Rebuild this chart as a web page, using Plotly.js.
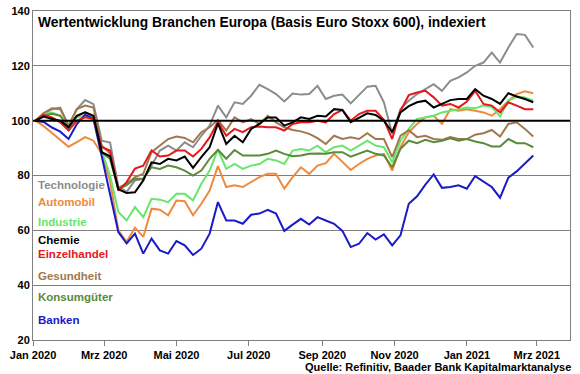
<!DOCTYPE html>
<html>
<head>
<meta charset="utf-8">
<script src="https://cdn.plot.ly/plotly-3.0.1.min.js"></script>
<style>html,body{margin:0;padding:0;background:#fff;}#chart{width:580px;height:374px;}</style>
</head>
<body>
<div id="chart"></div>
<script>
const dates = ["2020-01-03","2020-01-10","2020-01-17","2020-01-24","2020-01-31","2020-02-07","2020-02-14","2020-02-21","2020-02-28",
"2020-03-06","2020-03-13","2020-03-20","2020-03-27","2020-04-03","2020-04-10","2020-04-17","2020-04-24",
"2020-05-01","2020-05-08","2020-05-15","2020-05-22","2020-05-29","2020-06-05","2020-06-12","2020-06-19","2020-06-26",
"2020-07-03","2020-07-10","2020-07-17","2020-07-24","2020-07-31","2020-08-07","2020-08-14","2020-08-21","2020-08-28",
"2020-09-04","2020-09-11","2020-09-18","2020-09-25","2020-10-02","2020-10-09","2020-10-16","2020-10-23","2020-10-30",
"2020-11-06","2020-11-13","2020-11-20","2020-11-27","2020-12-04","2020-12-11","2020-12-18","2020-12-25",
"2021-01-01","2021-01-08","2021-01-15","2021-01-22","2021-01-29","2021-02-05","2021-02-12","2021-02-19","2021-02-26"];

const technologie = [100,102.5,104.2,104.8,98.2,104.2,107.5,106,92.7,92,
76,74,78.2,78.8,83.6,89.1,90.9,89.1,92.1,90.3,94.5,98.2,
105.5,101.2,106.7,106.1,109.1,113.1,111.5,109.7,107,109.9,109.5,109.7,112.7,
107.9,109.1,109.5,106.3,109.5,112.4,112.7,106.7,95.2,104.2,
107.3,109.7,111.5,113.3,110.9,114.5,115.8,117.6,120,121.2,124.8,
121.2,126.7,131.6,131.3,126.7];

const automobil = [100,98,95.5,93,90.5,92.2,94,92.7,88,78,
60,55.8,61,57.6,67.9,67.5,65.5,70.9,70.6,65.5,69.7,74.5,
83.4,75.8,76.4,75.8,77.6,79.4,80.6,80.6,75.2,79.4,83,80.6,83.6,
84.5,87.9,84.8,82,84.2,86.1,87.3,87.9,81.8,90.3,
95.8,98.8,101.2,101.8,98.8,104.2,103.6,104.2,103.6,103,101.8,
104.2,107.3,109.7,110.7,110];

const industrie = [100,102.4,103,101.8,97,101.2,101.8,100.6,89,80,
66.7,63.6,68.5,64.8,71.5,71.2,70.3,73.3,73.3,70.9,77,81.8,
89.4,82.4,84.2,82.4,83.6,84.2,86.1,85.5,84.2,89.1,89.7,89.1,90.9,
88.5,90.3,90.9,89.1,90.9,92.7,90.9,90.3,84.8,92.7,
97,100.6,101.2,101.8,103,103.6,104.2,104.8,104.5,105.5,105,
101.5,107.3,108.8,108.5,107.3];

const chemie = [100,101.5,100.6,100,97.6,101.8,103,101.8,88.5,87,
75,73.6,73.9,78.2,84.8,84.2,86.1,85.5,86.9,82.8,86.7,90.3,
99,91.5,94.5,92.1,97,98.8,101.2,101.2,98.2,99.4,101.2,100.6,101.8,
101.5,104.2,103.9,99.4,101.2,102.7,102.1,100,95.8,103,
105.3,106.7,107.3,104.8,106.1,107.5,107.9,107.9,111.5,109.1,107.9,
106.1,110,108.8,107.9,106.7];

const einzelhandel = [100,102.1,101.2,99.4,96.4,100,101.2,100.6,90.3,89.1,
74.5,77.6,82.5,83.6,89.1,86.9,87.3,89.1,89.1,86.9,89.7,93.9,
99.6,94.5,97,95.8,97.6,97.9,97.6,97.6,96.4,98.8,99.4,99.4,100,
99.4,102.4,103.9,100,102.4,103.6,103.6,100.3,93.3,103.6,
109.3,110.3,110.9,108.5,105.5,106.1,104.8,107,110.9,106.1,105.5,
103,106.7,105.5,104.2,104.2];

const gesundheit = [100,102.8,104.5,104.2,98.2,104.2,105.5,104.8,91,88,
75.5,77,79.4,80.6,88.5,90.9,93.3,94.2,93.7,92.1,95.8,97.6,
100.3,96.4,101.2,99.4,100.6,98.8,101.8,99.4,97.6,96.6,96.1,95.2,93.6,
91.5,94.5,93.3,93.9,93.3,95.4,93.3,93.3,86.7,94.5,
96.5,94,94.5,93.3,93,94,93.3,93.3,94.9,95.4,96.6,
94.2,98.8,99.4,97,94.2];

const konsumgueter = [100,101.8,102.5,101.8,97.6,101.8,103,101.5,88.5,86,
75,76.5,78.8,78.8,83,82.4,83.6,83,81.8,80,81.8,86.1,
89.4,86.1,89.3,87.3,87.3,87.3,87.9,89.1,87.9,87,87.3,87.9,88,
87.9,88.5,88.5,86.9,87.9,89.1,87.9,87.3,83,89.7,
92.7,91.8,93,92.1,92.7,93.6,92.7,93.3,92.4,91.8,90.6,
90.6,93.3,91.8,91.8,90.3];

const banken = [100,99.5,97.5,96,93.3,98.8,102.2,100.6,87,73,
59.4,55.2,58.8,51.5,57,52.7,51.5,56.1,54.5,51,53.3,58.8,
70.3,63.6,63.6,62.4,65.7,66.1,67.5,66.1,59.8,62.1,64.2,62.1,64.8,
63.6,62.4,59.8,53.9,55.1,59,56.6,58.5,54.5,58.2,
69.7,72.4,76.7,80.4,75.5,75.8,76.4,75.2,79.8,77.8,75.8,
71.9,79.2,81.5,84.3,87.3];

const seriesNames = ["Technologie","Automobil","Industrie","Chemie","Einzelhandel","Gesundheit","Konsumgüter","Banken"];
const seriesValues = [technologie, automobil, industrie, chemie, einzelhandel, gesundheit, konsumgueter, banken];
const seriesColors = ["#8c8c8c","#ee8a3e","#66e66a","#000000","#e3191c","#a07850","#5a8a3a","#1a1ac8"];
const labelY = [76.4, 70.3, 63.0, 56.6, 51.3, 43.3, 35.7, 27.3];
const drawOrder = [0,1,2,5,6,7,4,3];

const tickVals = ["2020-01-01","2020-03-01","2020-05-01","2020-07-01","2020-09-01","2020-11-01","2021-01-01","2021-03-01"];
const tickText = ["Jan 2020","Mrz 2020","Mai 2020","Jul 2020","Sep 2020","Nov 2020","Jan 2021","Mrz 2021"];

const FONT = "Liberation Sans, Arial, sans-serif";

const traces = drawOrder.map(i => ({
  type: "scatter", mode: "lines", name: seriesNames[i],
  x: dates, y: seriesValues[i],
  line: {color: seriesColors[i], width: 2},
  hoverinfo: "skip"
}));

const annotations = seriesNames.map((n, i) => ({
  text: "<b>" + n + "</b>", xref: "paper", yref: "y", x: 0.006, y: labelY[i],
  xanchor: "left", yanchor: "middle", showarrow: false,
  font: {family: FONT, size: 11.5, color: seriesColors[i]}
}));
annotations.push({
  text: "<b>Quelle: Refinitiv, Baader Bank Kapitalmarktanalyse</b>",
  xref: "paper", yref: "paper", x: 1.006, y: -0.082, xanchor: "right", yanchor: "middle",
  showarrow: false, font: {family: FONT, size: 11, color: "#000"}
});
annotations.push({
  text: "<b>Wertentwicklung Branchen Europa (Basis Euro Stoxx 600), indexiert</b>",
  xref: "paper", yref: "paper", x: 0.006, y: 0.965, xanchor: "left", yanchor: "middle",
  showarrow: false, font: {family: FONT, size: 13.8, color: "#000"}
});

const layout = {
  width: 580, height: 374,
  margin: {l: 33, r: 10, t: 11, b: 34},
  paper_bgcolor: "#fff", plot_bgcolor: "#fff",
  showlegend: false,
  font: {family: FONT, size: 11, color: "#000"},
  xaxis: {
    type: "date", range: ["2020-01-01", "2021-03-29"],
    tickvals: tickVals, ticktext: tickText.map(t => "<b>" + t + "</b>"),
    ticks: "outside", ticklen: 5, tickcolor: "#808080", tickwidth: 1,
    showgrid: false, zeroline: false,
    showline: true, linecolor: "#808080", linewidth: 1, mirror: true,
    tickfont: {family: FONT, size: 11, color: "#000"}
  },
  yaxis: {
    range: [20, 140], tickvals: [20,40,60,80,100,120,140],
    ticktext: ["<b>20</b>","<b>40</b>","<b>60</b>","<b>80</b>","<b>100</b>","<b>120</b>","<b>140</b>"],
    showgrid: true, gridcolor: "#808080", gridwidth: 1, zeroline: false,
    showline: true, linecolor: "#808080", linewidth: 1, mirror: true,
    ticks: "", tickfont: {family: FONT, size: 11, color: "#000"}
  },
  shapes: [{type: "line", xref: "paper", yref: "y", x0: 0, x1: 1, y0: 100, y1: 100,
            line: {color: "#000", width: 2}, layer: "above"}],
  annotations: annotations
};

Plotly.newPlot("chart", traces, layout, {displayModeBar: false, staticPlot: true});
</script>
</body>
</html>
